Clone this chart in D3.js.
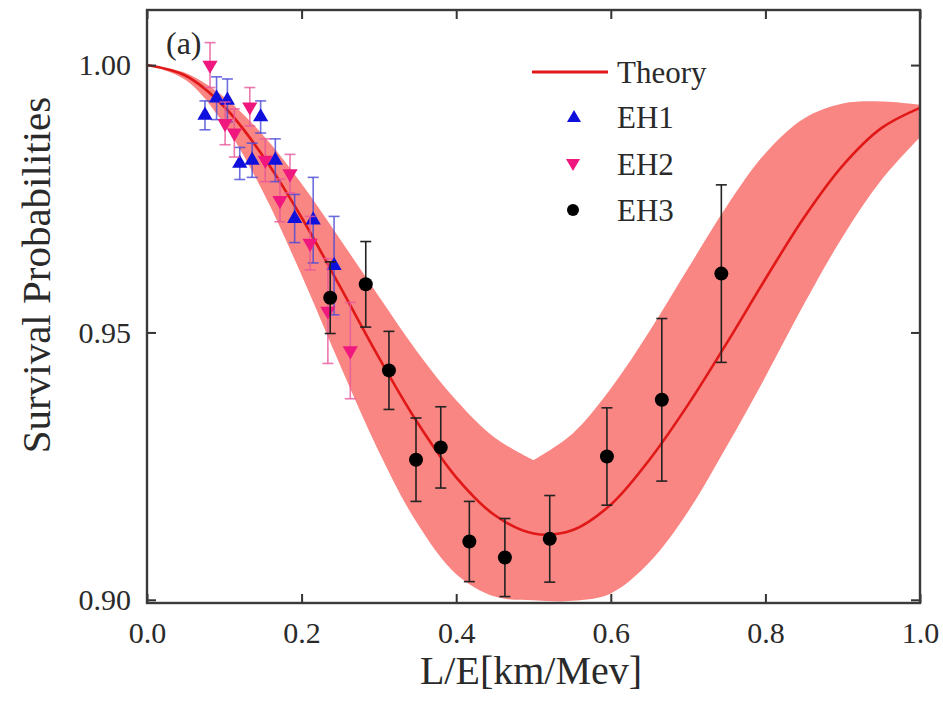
<!DOCTYPE html>
<html><head><meta charset="utf-8">
<script src="https://cdn.jsdelivr.net/npm/d3@7"></script>
<style>
body{margin:0;background:#fff}
svg{display:block}
text{font-family:"Liberation Serif","Times New Roman",serif;fill:#2a2a2a}
</style>
</head><body>
<svg id="c" width="943" height="709"></svg>
<script>
// ---- data ----
const gridX      = [0,0.05,0.10,0.15,0.20,0.25,0.30,0.35,0.40,0.45,0.50,0.55,0.60,0.65,0.70,0.75,0.80,0.85,0.90,0.95,1.00];
const theoryY    = [1.0000,0.9980,0.9922,0.9830,0.9715,0.9585,0.9453,0.9331,0.9229,0.9158,0.9124,0.9130,0.9178,0.9262,0.9365,0.9480,0.9600,0.9715,0.9812,0.9882,0.9920];
const bandUpper  = [1.0000,0.9985,0.9940,0.9869,0.9778,0.9674,0.9567,0.9463,0.9373,0.9303,0.9261,0.9310,0.9395,0.9502,0.9620,0.9736,0.9835,0.9900,0.9928,0.9932,0.9926];
const bandLower  = [1.0000,0.9972,0.9889,0.9763,0.9607,0.9438,0.9277,0.9142,0.9048,0.9006,0.8999,0.8998,0.9012,0.9070,0.9165,0.9287,0.9417,0.9553,0.9679,0.9785,0.9865];

const eh1X   = [0.075,0.090,0.104,0.120,0.136,0.147,0.166,0.191,0.215,0.242];
const eh1Y   = [0.9906,0.9938,0.9934,0.9816,0.9822,0.9903,0.9822,0.9713,0.9710,0.9625];
const eh1Err = [0.0027,0.0040,0.0040,0.0030,0.0032,0.0030,0.0040,0.0045,0.0080,0.0092];

const eh2X   = [0.0815,0.101,0.113,0.133,0.153,0.172,0.185,0.211,0.234,0.263];
const eh2Y   = [1.0000,0.9891,0.9873,0.9922,0.9822,0.9747,0.9797,0.9667,0.9540,0.9466];
const eh2Err = [0.0042,0.0040,0.0045,0.0036,0.0040,0.0040,0.0036,0.0050,0.0098,0.0090];

const eh3X   = [0.237,0.283,0.313,0.348,0.380,0.417,0.463,0.521,0.595,0.666,0.743];
const eh3Y   = [0.9565,0.9590,0.9429,0.9262,0.9285,0.9109,0.9079,0.9114,0.9268,0.9374,0.9610];
const eh3Err = [0.0067,0.0080,0.0073,0.0078,0.0076,0.0075,0.0073,0.0081,0.0091,0.0152,0.0166];

const xTicks = [0.0,0.2,0.4,0.6,0.8,1.0];
const yTicks = [0.90,0.95,1.00];
const legendLabels = ["Theory","EH1","EH2","EH3"];

// ---- drawing ----
const FONT = '"Liberation Serif","Times New Roman",serif';
const svg = d3.select("#c");
const L=147, R=920, T=10, B=603;
const x = d3.scaleLinear([0,1],[L,R]);
const y = d3.scaleLinear([0.8994,1.0103],[B,T]);

const cRed="#e01818", cBand="#f98682", cBlue="#1010dd", cPink="#f0187f";
const crv = d3.curveCatmullRom.alpha(0.5);

// band: upper edge has a corner at its minimum, so draw it in two pieces
const pts = gridX.map((v,i)=>({x:v,u:bandUpper[i],l:bandLower[i],t:theoryY[i]}));
const iMin = d3.minIndex(bandUpper);
const lineU = d3.line().x(d=>x(d.x)).y(d=>y(d.u)).curve(crv);
const lineL = d3.line().x(d=>x(d.x)).y(d=>y(d.l)).curve(crv);
const p1 = lineU(pts.slice(0,iMin+1));
const p2 = lineU(pts.slice(iMin)).replace(/^M/,"L");
const p3 = lineL(pts.slice().reverse()).replace(/^M/,"L");
svg.append("path").attr("d",p1+p2+p3+"Z").attr("fill",cBand).attr("stroke","none");

svg.append("path")
  .attr("d",d3.line().x(d=>x(d.x)).y(d=>y(d.t)).curve(crv)(pts))
  .attr("fill","none").attr("stroke",cRed).attr("stroke-width",2.6);

// error bars + markers
function series(xsArr, ysArr, errArr, barColor, barOp, drawMarker){
  const data = xsArr.map((v,i)=>({x:v,y:ysArr[i],e:errArr[i]}));
  const g = svg.append("g");
  const cap = 5.5;
  data.forEach(d=>{
    const X=x(d.x), y1=y(d.y+d.e), y2=y(d.y-d.e);
    g.append("line").attr("x1",X).attr("x2",X).attr("y1",y1).attr("y2",y2)
      .attr("stroke",barColor).attr("stroke-width",1.6).attr("opacity",barOp);
    [y1,y2].forEach(yy=>g.append("line").attr("x1",X-cap).attr("x2",X+cap).attr("y1",yy).attr("y2",yy)
      .attr("stroke",barColor).attr("stroke-width",1.6).attr("opacity",barOp));
  });
  data.forEach(d=>drawMarker(g, x(d.x), y(d.y)));
}
const triUp = d3.symbol(d3.symbolTriangle, 100)();
function upTri(g,X,Y,s){ g.append("path").attr("d",s||triUp).attr("transform",`translate(${X},${Y})`).attr("fill",cBlue); }
function downTri(g,X,Y,s){ g.append("path").attr("d",s||triUp).attr("transform",`translate(${X},${Y}) rotate(180)`).attr("fill",cPink); }
function dot(g,X,Y,r){ g.append("circle").attr("cx",X).attr("cy",Y).attr("r",r||7).attr("fill","#000"); }

series(eh1X,eh1Y,eh1Err,"#4a4ad8",0.8,upTri);
series(eh2X,eh2Y,eh2Err,"#e8589c",0.8,downTri);
series(eh3X,eh3Y,eh3Err,"#222",1,dot);

// axes (ticks inward on all sides)
function styleAxis(g){
  g.attr("font-family",FONT);
  g.select(".domain").remove();
  g.selectAll(".tick line").attr("stroke","#333").attr("stroke-width",2);
  g.selectAll(".tick text").attr("font-size",30).attr("fill","#2a2a2a").attr("font-family",FONT);
}
svg.append("g").attr("transform",`translate(0,${B})`)
  .call(d3.axisBottom(x).tickValues(xTicks).tickFormat(d3.format(".1f")).tickSize(-9).tickPadding(19)).call(styleAxis);
svg.append("g").attr("transform",`translate(0,${T})`)
  .call(d3.axisTop(x).tickValues(xTicks).tickFormat("").tickSize(-9)).call(styleAxis);
svg.append("g").attr("transform",`translate(${L},0)`)
  .call(d3.axisLeft(y).tickValues(yTicks).tickFormat(d3.format(".2f")).tickSize(-9).tickPadding(16)).call(styleAxis);
svg.append("g").attr("transform",`translate(${R},0)`)
  .call(d3.axisRight(y).tickValues(yTicks).tickFormat("").tickSize(-9)).call(styleAxis);

svg.append("rect").attr("x",L).attr("y",T).attr("width",R-L).attr("height",B-T)
  .attr("fill","none").attr("stroke","#3a3a3a").attr("stroke-width",2.4);

// titles
svg.append("text").attr("x",531).attr("y",684).attr("text-anchor","middle").attr("font-family",FONT).attr("font-size",40).text("L/E[km/Mev]");
svg.append("text").attr("transform","translate(50,275) rotate(-90)").attr("text-anchor","middle").attr("font-family",FONT).attr("font-size",41).text("Survival Probabilities");
svg.append("text").attr("x",166).attr("y",54).attr("font-family",FONT).attr("font-size",32).text("(a)");

// legend
const lg = svg.append("g");
const ly = [72,117,164,210];
lg.append("line").attr("x1",532).attr("x2",608).attr("y1",ly[0]).attr("y2",ly[0]).attr("stroke",cRed).attr("stroke-width",3);
upTri(lg,574,ly[1]+1,d3.symbol(d3.symbolTriangle,85)());
downTri(lg,573,ly[2]-1,d3.symbol(d3.symbolTriangle,85)());
dot(lg,573,ly[3],6);
legendLabels.forEach((t,i)=>lg.append("text").attr("x",617).attr("y",ly[i]).attr("dy","0.35em").attr("font-family",FONT).attr("font-size",31).text(t));
</script>
</body></html>
